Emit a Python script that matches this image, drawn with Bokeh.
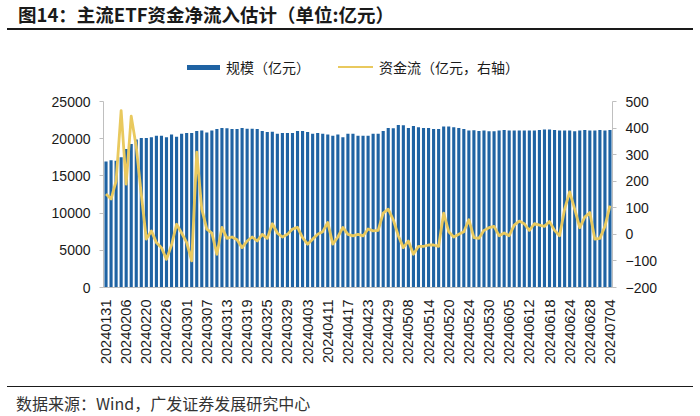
import numpy as np
from bokeh.plotting import figure
from bokeh.layouts import column
from bokeh.models import (ColumnDataSource, Range1d, LinearAxis, FixedTicker, Div)
from bokeh.embed import file_html
from bokeh.resources import INLINE

# ---------------- data ----------------
dates = (["20240131"] +
         ["202402%02d" % d for d in [1, 2, 5, 6, 7, 8, 19, 20, 21, 22, 23, 26, 27, 28, 29]] +
         ["202403%02d" % d for d in [1, 4, 5, 6, 7, 8, 11, 12, 13, 14, 15, 18, 19, 20, 21, 22,
                                      25, 26, 27, 28, 29, 31]] +
         ["202404%02d" % d for d in [1, 2, 3, 8, 9, 10, 11, 12, 15, 16, 17, 18, 19, 22, 23, 24,
                                      25, 26, 29, 30]] +
         ["202405%02d" % d for d in [6, 7, 8, 9, 10, 13, 14, 15, 16, 17, 20, 21, 22, 23, 24,
                                      27, 28, 29, 30, 31]] +
         ["202406%02d" % d for d in [3, 4, 5, 6, 7, 11, 12, 13, 14, 17, 18, 19, 20, 21, 24,
                                      25, 26, 27, 28]] +
         ["202407%02d" % d for d in [1, 2, 3, 4]])

# 规模（亿元）
scale = [16950, 17100, 17050, 17500, 18600, 19300, 19900, 20100, 20100, 20200,
         20400, 20400, 20200, 20550, 20250, 20650, 20750, 20750, 21050, 21100,
         20850, 21100, 21300, 21450, 21400, 21300, 21300, 21450, 21350, 21350,
         21300, 21050, 20900, 20950, 20650, 20750, 20750, 20750, 21050, 21050,
         20900, 20650, 20750, 20650, 20550, 20400, 20550, 20200, 20650, 20650,
         20400, 20400, 20400, 20650, 20650, 21050, 21450, 21400, 21850, 21800,
         21450, 21700, 21550, 21450, 21450, 21300, 21300, 21650, 21650, 21550,
         21450, 21300, 21100, 21150, 21050, 21090, 21000, 21000, 21090, 21180,
         21090, 21090, 21090, 21090, 21090, 21090, 21180, 21220, 21220, 21180,
         21090, 21090, 21090, 21000, 21090, 21180, 21090, 21090, 21180, 21090,
         21180]

# 资金流（亿元，右轴）
flow = [152, 133, 200, 466, 189, 445, 330, 150, -18, 13,
        -31, -50, -94, -40, 38, 5, -30, -100, 309, 95,
        20, 5, -75, 26, -15, -10, -20, -50, -25, -10,
        -25, 0, -15, 40, 5, -10, 0, 20, 26, -12,
        -37, -18, 0, 10, 45, -37, -10, 26, 0, -6,
        0, -6, 20, 13, 15, 80, 95, 55, -5, -50,
        -25, -75, -45, -45, -40, -40, -45, 80, 10, -10,
        0, 10, 55, -12, -15, 15, 25, 30, -5, 5,
        -5, 35, 50, 40, 15, 40, 35, 30, 48, 15,
        -5, 95, 160, 95, 25, 65, 82, -18, -15, 30,
        108]

tick_labels = ["20240131", "20240206", "20240220", "20240226", "20240301", "20240307",
               "20240313", "20240319", "20240325", "20240329", "20240403", "20240411",
               "20240417", "20240423", "20240429", "20240508", "20240514", "20240520",
               "20240524", "20240530", "20240605", "20240612", "20240618", "20240624",
               "20240628", "20240704"]

left_ticks = [0, 5000, 10000, 15000, 20000, 25000]
right_ticks = [-200, -100, 0, 100, 200, 300, 400, 500]

title_text = "图14：主流ETF资金净流入估计（单位:亿元）"
source_text = "数据来源：Wind，广发证券发展研究中心"
legend_labels = ["规模（亿元）", "资金流（亿元，右轴）"]

# ---------------- style ----------------
BLUE = "#1F63A3"
YELLOW = "#E9C95E"
AXIS_GRAY = "#BFBFBF"
NUM = "Liberation Sans"
FONT_CSS = "font-family:'Noto Sans CJK SC',sans-serif;"

idx = list(range(len(dates)))
src = ColumnDataSource(dict(idx=idx, date=dates, scale=scale, flow=flow))

p = figure(width=700, height=290,
           x_range=Range1d(-0.5, len(dates) - 0.5),
           y_range=Range1d(left_ticks[0], left_ticks[-1]),
           output_backend="svg", toolbar_location=None,
           min_border_left=103, min_border_right=88,
           min_border_top=21, min_border_bottom=83)
p.margin = (0, 0, 0, 0)
p.extra_y_ranges = {"flow": Range1d(right_ticks[0], right_ticks[-1])}
p.outline_line_color = None
p.grid.visible = False

bars = p.vbar(x="idx", top="scale", width=0.62, source=src,
              fill_color=BLUE, line_color=None)
line = p.line(x="idx", y="flow", source=src, y_range_name="flow",
              line_color=YELLOW, line_width=2.8, line_join="round")

# axes
p.yaxis.ticker = FixedTicker(ticks=left_ticks)
ax_r = LinearAxis(y_range_name="flow", ticker=FixedTicker(ticks=right_ticks))
p.add_layout(ax_r, "right")

for ax in [p.yaxis[0], ax_r]:
    ax.axis_line_color = AXIS_GRAY
    ax.major_tick_line_color = AXIS_GRAY
    ax.major_tick_out = 4
    ax.major_tick_in = 0
    ax.minor_tick_line_color = None
    ax.major_label_text_font = NUM
    ax.major_label_text_font_size = "14px"
    ax.major_label_text_color = "#1a1a1a"
    ax.major_label_standoff = 9

tick_pos = [dates.index(t) for t in tick_labels]
xa = p.xaxis[0]
xa.ticker = FixedTicker(ticks=tick_pos)
xa.major_label_overrides = {i: dates[i] for i in tick_pos}
xa.axis_line_color = AXIS_GRAY
xa.major_tick_line_color = None
xa.minor_tick_line_color = None
xa.major_label_orientation = np.pi / 2
xa.major_label_text_font = NUM
xa.major_label_text_font_size = "14.5px"
xa.major_label_text_color = "#1a1a1a"
xa.major_label_standoff = 6

title_div = Div(width=700, height=30, margin=(0, 0, 0, 0),
                text=('<div style="width:686px;margin-left:7px;padding-top:6px;height:16px;'
                      'line-height:16px;padding-bottom:5.5px;border-bottom:2.5px solid #1a1a1a;'
                      'white-space:nowrap;box-sizing:content-box;">'
                      '<span style="margin-left:11px;' + FONT_CSS +
                      'font-weight:bold;font-size:18.5px;color:#1a1a1a;">'
                      + title_text + '</span></div>'))

legend_div = Div(width=700, height=50, margin=(0, 0, 0, 0),
                 text=('<div style="height:29px"></div>'
                       '<div style="display:flex;align-items:center;height:16px;'
                       'padding-left:187px;white-space:nowrap;' + FONT_CSS +
                       'font-size:14px;color:#1a1a1a;">'
                       '<span style="display:inline-block;width:33px;height:5px;background:'
                       + BLUE + ';"></span>'
                       '<span style="margin-left:6px;line-height:16px;">' + legend_labels[0] +
                       '</span>'
                       '<span style="display:inline-block;width:35px;height:2.5px;'
                       'margin-left:28px;background:' + YELLOW + ';"></span>'
                       '<span style="margin-left:6px;line-height:16px;">' + legend_labels[1] +
                       '</span></div>'))

source_div = Div(width=700, height=46, margin=(0, 0, 0, 0),
                 text=('<div style="height:16px"></div>'
                       '<div style="width:686px;margin-left:7px;border-top:1.5px solid #1a1a1a;'
                       'padding-top:8.5px;height:14px;line-height:14px;white-space:nowrap;'
                       'box-sizing:content-box;">'
                       '<span style="margin-left:9px;' + FONT_CSS +
                       'font-size:16px;color:#333333;">' + source_text + '</span></div>'))

layout = column(title_div, legend_div, p, source_div, spacing=0, margin=(0, 0, 0, 0))

open("out.html", "w").write(file_html(layout, INLINE))
